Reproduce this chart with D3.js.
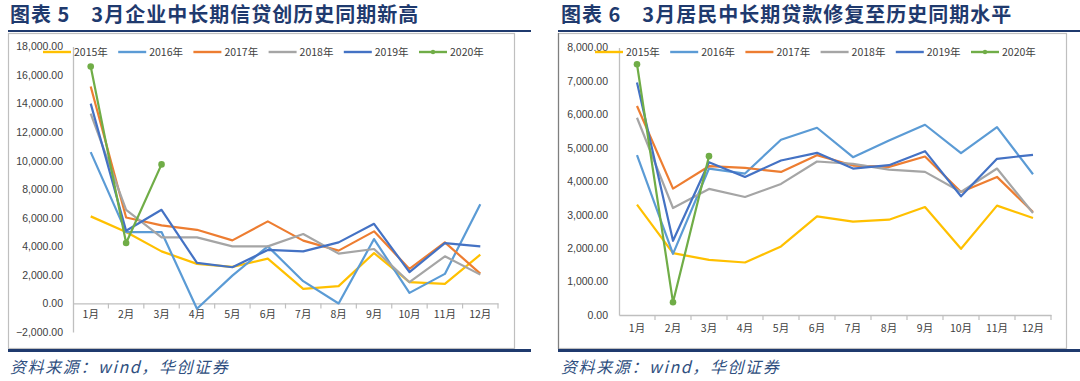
<!DOCTYPE html>
<html><head><meta charset="utf-8">
<script src="https://cdn.jsdelivr.net/npm/d3@7"></script>
<style>
body{margin:0;background:#fff;}
svg{display:block;}
</style></head>
<body>
<svg id="c" width="1080" height="381"></svg>
<script>
const months = ["1月","2月","3月","4月","5月","6月","7月","8月","9月","10月","11月","12月"];
const years = ["2015年","2016年","2017年","2018年","2019年","2020年"];
const colors = ["#FFC000","#5B9BD5","#ED7D31","#A5A5A5","#4472C4","#70AD47"];

// Chart 5: 企业中长期信贷
const corp2015 = [6100,5000,3650,2770,2560,3140,1020,1210,3530,1490,1370,3420];
const corp2016 = [10600,5000,5000,-370,1950,4000,1560,0,4510,740,2070,6950];
const corp2017 = [15200,6020,5470,5160,4420,5750,4400,3700,5050,2420,4280,2090];
const corp2018 = [13300,6560,4630,4630,4000,4000,4860,3490,3815,1490,3300,2020];
const corp2019 = [14000,5090,6560,2840,2535,3750,3650,4280,5580,2190,4230,4000];
const corp2020 = [16600,4230,9740];
const corpTicks = [-2000,0,2000,4000,6000,8000,10000,12000,14000,16000,18000];

// Chart 6: 居民中长期贷款
const hh2015 = [3300,1850,1650,1570,2050,2950,2790,2850,3230,1980,3270,2900];
const hh2016 = [4780,1830,4380,4230,5240,5600,4720,5220,5690,4840,5620,4210];
const hh2017 = [6250,3780,4450,4400,4280,4780,4470,4430,4740,3680,4130,3080];
const hh2018 = [5900,3200,3770,3530,3920,4590,4520,4350,4280,3680,4380,3050];
const hh2019 = [6950,2220,4570,4130,4620,4850,4380,4480,4900,3550,4670,4790];
const hh2020 = [7500,380,4750];
const hhTicks = [0,1000,2000,3000,4000,5000,6000,7000,8000];

const titles = ["图表 5　3月企业中长期信贷创历史同期新高","图表 6　3月居民中长期贷款修复至历史同期水平"];
const source = "资料来源：wind，华创证券";

const svg = d3.select("#c");
const navy = "#1F3A6E";

function panel(cfg){
  const g = svg.append("g");
  // title
  g.append("text").attr("x",cfg.titleX).attr("y",22)
    .attr("font-family","'Noto Sans CJK SC','Noto Sans',sans-serif").attr("font-weight","700")
    .attr("font-size","20px").attr("letter-spacing","1px").attr("fill",navy).attr("xml:space","preserve")
    .text(cfg.title);
  // box
  g.append("rect").attr("x",cfg.box[0]+0.5).attr("y",33.5).attr("width",cfg.box[1]-cfg.box[0]).attr("height",315)
    .attr("fill","none").attr("stroke","#BFBFBF").attr("stroke-width",1.2);
  if(cfg.darkLeft){
    g.append("line").attr("x1",cfg.box[0]+0.5).attr("x2",cfg.box[0]+0.5).attr("y1",33).attr("y2",349)
      .attr("stroke","#7F7F7F").attr("stroke-width",1.2);
  }
  // rules
  g.append("line").attr("x1",cfg.rule[0]).attr("x2",cfg.rule[1]).attr("y1",31).attr("y2",31)
    .attr("stroke",navy).attr("stroke-width",2);
  g.append("line").attr("x1",cfg.rule[0]).attr("x2",cfg.rule[1]).attr("y1",350.5).attr("y2",350.5)
    .attr("stroke",navy).attr("stroke-width",3);
  // source
  g.append("text").attr("x",cfg.titleX).attr("y",373)
    .attr("font-family","'Noto Sans CJK SC',serif").attr("font-style","italic")
    .attr("font-size","16px").attr("letter-spacing","1.6px").attr("fill","#2F4F80").text(source);

  const x = d3.scaleBand().domain(months).range(cfg.xr);
  const y = d3.scaleLinear().domain(cfg.yd).range(cfg.yr);

  // y axis
  const ya = g.append("g").attr("transform",`translate(${cfg.xr[0]},0)`)
    .call(d3.axisLeft(y).tickValues(cfg.ticks).tickSize(0).tickPadding(cfg.ypad).tickFormat(d3.format(",.2f")));
  ya.select(".domain").attr("stroke","#BFBFBF").attr("stroke-width",1.3);
  ya.selectAll("text").attr("font-family","'Liberation Sans',Arial,sans-serif").attr("font-size","10.5px").attr("fill","#404040");

  // x axis at zero
  const y0 = y(0);
  const xa = g.append("g").attr("transform",`translate(0,${y0})`)
    .call(d3.axisBottom(x).tickSize(0).tickPadding(cfg.xpad));
  xa.select(".domain").attr("stroke","#BFBFBF").attr("stroke-width",1.3);
  xa.selectAll("text").attr("font-family","'Noto Sans CJK SC',sans-serif").attr("font-size","10.5px").attr("fill","#404040");
  // tick marks at band boundaries
  const bounds = months.map(m=>x(m)).concat([x(months[11])+x.step()]);
  g.append("g").selectAll("line").data(bounds.slice(1)).join("line")
    .attr("x1",d=>d).attr("x2",d=>d).attr("y1",y0).attr("y2",y0+5)
    .attr("stroke","#BFBFBF").attr("stroke-width",1.2);

  const line = d3.line().x((d,i)=>x(months[i])+x.bandwidth()/2).y(d=>y(d));
  cfg.series.forEach((s,k)=>{
    g.append("path").datum(s).attr("d",line).attr("fill","none")
      .attr("stroke",colors[k]).attr("stroke-width",2.2).attr("stroke-linejoin","round");
  });
  const last = cfg.series[5];
  g.append("g").selectAll("circle").data(last).join("circle")
    .attr("cx",(d,i)=>x(months[i])+x.bandwidth()/2).attr("cy",d=>y(d)).attr("r",3.3).attr("fill",colors[5]);

  // legend
  const lg = g.append("g");
  years.forEach((yr,k)=>{
    const lx = cfg.legX + k*75.2;
    lg.append("line").attr("x1",lx).attr("x2",lx+28).attr("y1",cfg.legY).attr("y2",cfg.legY)
      .attr("stroke",colors[k]).attr("stroke-width",2.4);
    if(k===5) lg.append("circle").attr("cx",lx+14).attr("cy",cfg.legY).attr("r",2.2).attr("fill",colors[k]);
    lg.append("text").attr("x",lx+31).attr("y",cfg.legY+4).attr("font-family","'Noto Sans CJK SC',sans-serif")
      .attr("font-size","10.5px").attr("fill","#404040").text(yr);
  });
}

panel({title:titles[0], titleX:10, box:[8,514], rule:[8,531], darkLeft:false,
  xr:[73,498], yd:[-2000,18000], yr:[332,46.5], ticks:corpTicks, ypad:10, xpad:7,
  series:[corp2015,corp2016,corp2017,corp2018,corp2019,corp2020], legX:43, legY:52});
panel({title:titles[1], titleX:561, box:[558,1066], rule:[558,1080], darkLeft:true,
  xr:[619,1051], yd:[0,8000], yr:[315,47.5], ticks:hhTicks, ypad:11, xpad:10,
  series:[hh2015,hh2016,hh2017,hh2018,hh2019,hh2020], legX:595, legY:52});
</script>
</body></html>
